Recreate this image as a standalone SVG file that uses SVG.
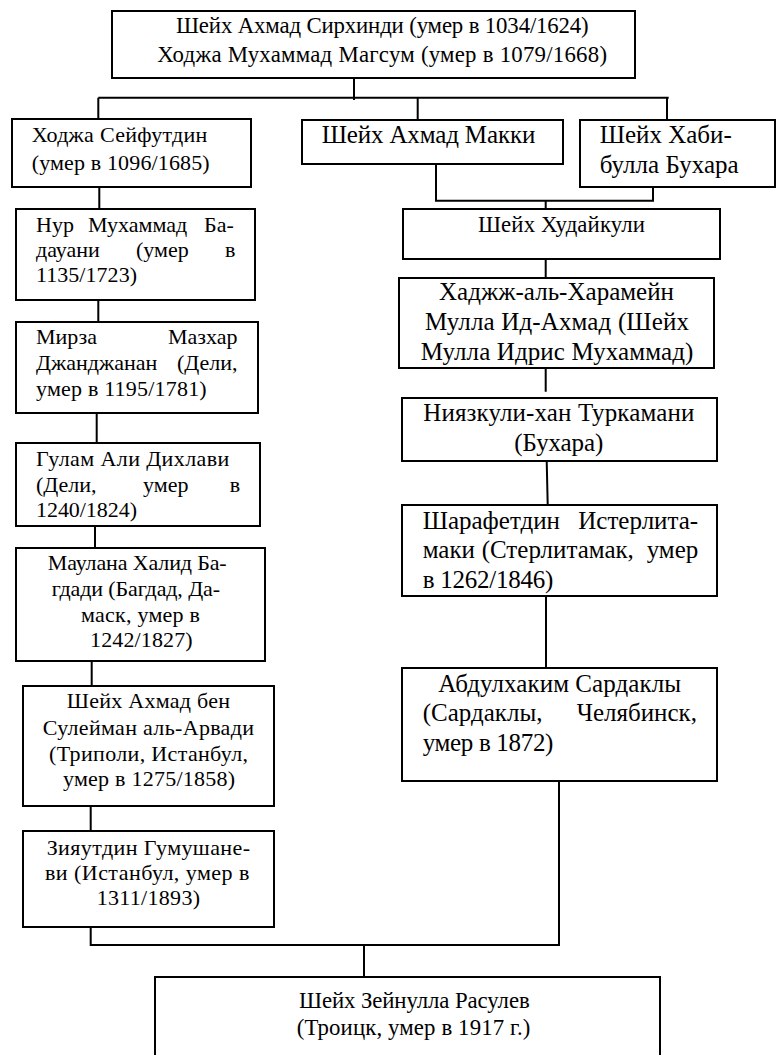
<svg xmlns="http://www.w3.org/2000/svg" width="777" height="1055" viewBox="0 0 777 1055">
<style>
.box{fill:#fff;stroke:#000;stroke-width:2}
.ln{fill:none;stroke:#000;stroke-width:2}
.s22{font-size:22px}
.s23{font-size:22.8px}
.s25{font-size:25px}
</style>
<rect width="777" height="1055" fill="#fff"/>
<g id="connectors">
<path class="ln" d="M354,78V100 M98.3,97.7H668.7 M98.3,97.7V119 M417.7,97.7V120 M667,97.7V120"/>
<path class="ln" d="M436,164V200.7 M653,186.7V200.7 M435,200.7H654 M545.7,200.7V209.3"/>
<path class="ln" d="M545.7,259V277.7 M545.7,367.7V391.7 M546.7,460.7L547.7,505 M546,596V667.7 M559,781V945"/>
<path class="ln" d="M99.3,186.7V209 M98.3,300V322 M96.7,413V443 M95,526V548 M91.7,661V686 M90.7,806V831 M90.7,927V945 M89.7,945H560 M364,945V977"/>
</g>
<g id="nodes" font-family="'Liberation Serif', 'DejaVu Serif', serif" fill="#000">
<g id="n-sirhindi">
<rect class="box" x="112" y="11" width="523" height="67"/>
<text class="s23" x="176" y="33.3" textLength="412.7">Шейх Ахмад Сирхинди (умер в 1034/1624)</text>
<text class="s23" x="157.3" y="61.7" textLength="449.7">Ходжа Мухаммад Магсум (умер в 1079/1668)</text>
</g>
<g id="n-seyfutdin">
<rect class="box" x="12" y="119" width="239" height="68"/>
<text class="s22" x="31.7" y="141.7" textLength="175.7">Ходжа Сейфутдин</text>
<text class="s22" x="31.7" y="170" textLength="178">(умер в 1096/1685)</text>
</g>
<g id="n-makki">
<rect class="box" x="302" y="120" width="261" height="44"/>
<text class="s25" x="321.7" y="143.3" textLength="213.6">Шейх Ахмад Макки</text>
</g>
<g id="n-habibulla">
<rect class="box" x="580" y="120" width="195" height="67"/>
<text class="s25" x="599.7" y="143.3">Шейх Хаби-</text>
<text class="s25" x="599.7" y="172.7" textLength="139">булла Бухара</text>
</g>
<g id="n-nur">
<rect class="box" x="16" y="209" width="239" height="91"/>
<text class="s22" y="232"><tspan x="36">Нур</tspan><tspan x="88">Мухаммад</tspan><tspan x="204">Ба-</tspan></text>
<text class="s22" y="257"><tspan x="36">дауани</tspan><tspan x="136">(умер</tspan><tspan x="225">в</tspan></text>
<text class="s22" x="36" y="282" textLength="101">1135/1723)</text>
</g>
<g id="n-mirza">
<rect class="box" x="16" y="322" width="242" height="91"/>
<text class="s22" y="344"><tspan x="36">Мирза</tspan><tspan x="168">Мазхар</tspan></text>
<text class="s22" y="370"><tspan x="36">Джанджанан</tspan><tspan x="177">(Дели,</tspan></text>
<text class="s22" x="36" y="395.7" textLength="170.7">умер в 1195/1781)</text>
</g>
<g id="n-gulam">
<rect class="box" x="16" y="443" width="244" height="83"/>
<text class="s22" x="36" y="466" textLength="193.3">Гулам Али Дихлави</text>
<text class="s22" y="492"><tspan x="36">(Дели,</tspan><tspan x="143">умер</tspan><tspan x="229.7">в</tspan></text>
<text class="s22" x="36" y="517.3" textLength="101">1240/1824)</text>
</g>
<g id="n-maulana">
<rect class="box" x="16" y="548" width="249" height="113"/>
<text class="s22" x="47.7" y="570" textLength="179">Маулана Халид Ба-</text>
<text class="s22" x="51.7" y="596" textLength="168.3">гдади (Багдад, Да-</text>
<text class="s22" x="81" y="621.7" textLength="119">маск, умер в</text>
<text class="s22" x="90" y="646.7" textLength="102.7">1242/1827)</text>
</g>
<g id="n-arvadi">
<rect class="box" x="23" y="686" width="251" height="120"/>
<text class="s22" x="66.7" y="708.3" textLength="163.3">Шейх Ахмад бен</text>
<text class="s22" x="42.7" y="734.5" textLength="211.3">Сулейман аль-Арвади</text>
<text class="s22" x="49" y="760.5" textLength="199">(Триполи, Истанбул,</text>
<text class="s22" x="63" y="786" textLength="172">умер в 1275/1858)</text>
</g>
<g id="n-ziyautdin">
<rect class="box" x="23" y="831" width="251" height="96"/>
<text class="s22" x="46.7" y="855" textLength="203.3">Зияутдин Гумушане-</text>
<text class="s22" x="45" y="880" textLength="204.3">ви (Истанбул, умер в</text>
<text class="s22" x="96.7" y="905" textLength="103.3">1311/1893)</text>
</g>
<g id="n-hudaykuli">
<rect class="box" x="403" y="209" width="317" height="50"/>
<text class="s23" x="478" y="231.7" textLength="167">Шейх Худайкули</text>
</g>
<g id="n-haramein">
<rect class="box" x="399" y="278" width="315" height="90"/>
<text class="s25" x="439" y="300" textLength="235">Хаджж-аль-Харамейн</text>
<text class="s25" x="425" y="330" textLength="264">Мулла Ид-Ахмад (Шейх</text>
<text class="s25" x="420.7" y="360" textLength="272.7">Мулла Идрис Мухаммад)</text>
</g>
<g id="n-niyazkuli">
<rect class="box" x="402" y="398" width="315" height="63"/>
<text class="s25" x="423.3" y="421" textLength="271">Ниязкули-хан Туркамани</text>
<text class="s25" x="514.3" y="450.5" textLength="89">(Бухара)</text>
</g>
<g id="n-sharafetdin">
<rect class="box" x="402" y="505" width="315" height="91"/>
<text class="s25" y="528.5"><tspan x="422.7">Шарафетдин</tspan><tspan x="578.3">Истерлита-</tspan></text>
<text class="s25" y="558"><tspan x="422.7">маки</tspan><tspan x="481.7">(Стерлитамак,</tspan><tspan x="646.7">умер</tspan></text>
<text class="s25" x="422.7" y="588" textLength="130.7">в 1262/1846)</text>
</g>
<g id="n-abdulhakim">
<rect class="box" x="402" y="668" width="315" height="113"/>
<text class="s25" x="438.3" y="691.7" textLength="242.7">Абдулхаким Сардаклы</text>
<text class="s25" y="720.5"><tspan x="422.7">(Сардаклы,</tspan><tspan x="576.7">Челябинск,</tspan></text>
<text class="s25" x="422.7" y="751" textLength="130.7">умер в 1872)</text>
</g>
<g id="n-rasulev">
<rect class="box" x="155" y="977" width="505" height="95"/>
<text class="s23" x="299" y="1008.3" textLength="230.7">Шейх Зейнулла Расулев</text>
<text class="s23" x="296.7" y="1035" textLength="233.6">(Троицк, умер в 1917 г.)</text>
</g>
</g>
</svg>
